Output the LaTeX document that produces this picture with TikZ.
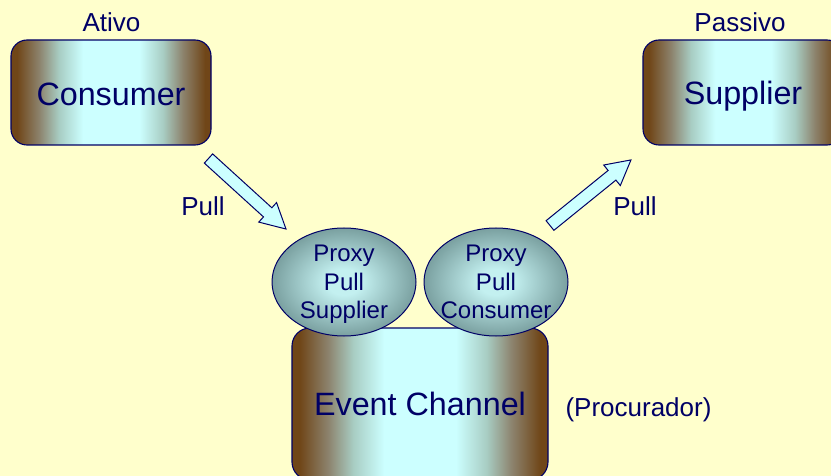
\documentclass[tikz,border=0pt]{standalone}
\usepackage{fontspec}
\setmainfont{Liberation Sans}
\usetikzlibrary{shapes.geometric}
\definecolor{bg}{RGB}{255,255,204}
\definecolor{navy}{RGB}{0,0,102}
\definecolor{brn}{RGB}{112,70,24}
\definecolor{gry}{RGB}{140,130,108}
\definecolor{gcy}{RGB}{168,205,195}
\definecolor{lcy}{RGB}{204,255,255}
\definecolor{ein}{RGB}{195,240,240}
\definecolor{eout}{RGB}{122,160,160}
\definecolor{arrfill}{RGB}{204,255,255}
\pgfdeclarehorizontalshading{boxshade}{100bp}{color(0bp)=(brn); color(25bp)=(brn); color(26.5bp)=(brn); color(32bp)=(gry); color(37bp)=(gcy); color(43bp)=(lcy); color(50bp)=(lcy); color(57bp)=(lcy); color(63bp)=(gcy); color(68bp)=(gry); color(73.5bp)=(brn); color(75bp)=(brn); color(100bp)=(brn)}
\pgfdeclareradialshading{ellshade}{\pgfpoint{0bp}{0bp}}{color(0bp)=(ein); color(6bp)=(ein); color(25bp)=(eout); color(50bp)=(eout)}
\tikzset{
  lbl/.style={text=navy, font=\fontsize{26}{30}\selectfont, inner sep=0pt, anchor=base},
  boxnode/.style={rectangle, draw=navy, line width=1.1pt, rounded corners=16pt, shading=boxshade, text=navy, font=\fontsize{32.3}{36}\selectfont, inner sep=0pt, text depth=0pt},
  proxy/.style={ellipse, draw=navy, line width=1pt, shading=ellshade, minimum width=144pt, minimum height=108pt, inner sep=0pt},
  proxytext/.style={text=navy, font=\fontsize{24}{28.5}\selectfont, align=center, inner sep=0pt, text depth=0pt},
  blockarrow/.style={draw=navy, fill=arrfill, line width=1pt, line join=miter}
}
\begin{document}
\begin{tikzpicture}[x=1pt,y=-1pt]
\useasboundingbox (0,0) rectangle (831,476);
\fill[bg] (0,0) rectangle (831,476);
\clip (0,0) rectangle (831,476);
% event channel
\node[boxnode, minimum width=256pt, minimum height=152pt, rounded corners=18pt, text height=22pt] (ec) at (420,404) {Event Channel};
% proxies
\node[proxy] (pps) at (344,282) {};
\node[proxy] (ppc) at (496,282) {};
\node[proxytext] (ppst) at (pps) {Proxy\\Pull\\Supplier};
\node[proxytext] (ppct) at (ppc) {Proxy\\Pull\\Consumer};
% consumer / supplier
\node[boxnode, minimum width=200pt, minimum height=105pt, text height=26pt] (cons) at (111,92.5) {Consumer};
\node[boxnode, minimum width=200pt, minimum height=105pt, text height=25pt] (supp) at (743,92.5) {Supplier};
% arrows (block arrows from tail to tip)
\coordinate (tA) at (208.5,158.5);
\coordinate (tB) at (550,225.5);
\begin{scope}[shift={(tA)}, rotate=-42.3]
  \draw[blockarrow] (0,-6.2) -- (80,-6.2) -- (80,-13.2) -- (104.8,0) -- (80,13.2) -- (80,6.2) -- (0,6.2) -- cycle;
\end{scope}
\begin{scope}[shift={(tB)}, rotate=39]
  \draw[blockarrow] (0,-6.2) -- (79.8,-6.2) -- (79.8,-13.2) -- (104.2,0) -- (79.8,13.2) -- (79.8,6.2) -- (0,6.2) -- cycle;
\end{scope}
% labels
\node[lbl] (ativo) at (111.5,32) {Ativo};
\node[lbl] (passivo) at (740,32) {Passivo};
\node[lbl] (pullL) at (203,215) {Pull};
\node[lbl] (pullR) at (635,216) {Pull};
\node[lbl] (proc) at (638.5,416) {(Procurador)};
\end{tikzpicture}
\end{document}
